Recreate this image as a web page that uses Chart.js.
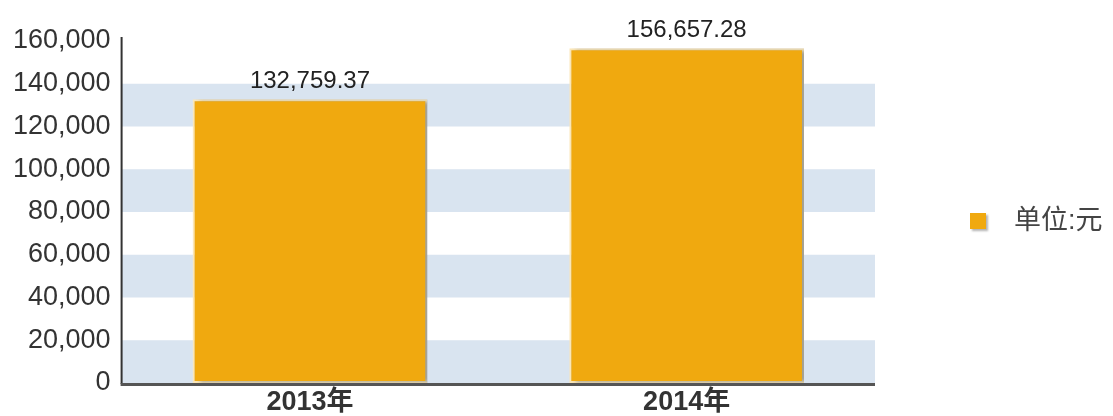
<!DOCTYPE html>
<html>
<head>
<meta charset="utf-8">
<script src="https://cdn.jsdelivr.net/npm/chart.js@4/dist/chart.umd.min.js"></script>
<style>
  body { margin: 0; background: #fff; }
  #wrap { width: 1113px; height: 416px; }
</style>
</head>
<body>
<div id="wrap"><canvas id="barChart"></canvas></div>
<script>
const years = ["2013年", "2014年"];
const amounts = [132759.37, 156657.28];
const seriesName = "单位:元";
const bandRanges = [[0, 20000], [40000, 60000], [80000, 100000], [120000, 140000]];

const barColor = "#f0a90f";
const font = "'Liberation Sans', Arial, 'Noto Sans CJK SC', sans-serif";

// light blue stripes behind the bars
const bands = {
  id: "bands",
  beforeDatasetsDraw(chart) {
    const { ctx, chartArea: a, scales: { y } } = chart;
    ctx.save();
    ctx.fillStyle = "#d9e4f0";
    bandRanges.forEach(r => {
      const top = y.getPixelForValue(r[1]);
      const bot = y.getPixelForValue(r[0]);
      ctx.fillRect(a.left, top, a.right - a.left, bot - top);
    });
    ctx.restore();
    // shadow for bars
    ctx.save();
    ctx.shadowColor = "rgba(90,100,115,0.55)";
    ctx.shadowOffsetX = 5;
    ctx.shadowOffsetY = 1;
    ctx.shadowBlur = 4;
  },
  afterDatasetsDraw(chart) {
    const { ctx } = chart;
    ctx.restore();
    // value labels
    ctx.save();
    ctx.font = "24px " + font;
    ctx.fillStyle = "#222";
    ctx.textAlign = "center";
    ctx.textBaseline = "bottom";
    chart.getDatasetMeta(0).data.forEach((bar, i) => {
      ctx.fillText(amounts[i].toLocaleString("en-US", { minimumFractionDigits: 2 }), bar.x, bar.y - 6);
    });
    ctx.restore();
  },
  afterDraw(chart) {
    const { ctx, chartArea: a } = chart;
    // axis lines
    ctx.save();
    ctx.strokeStyle = "#333";
    ctx.lineWidth = 2;
    ctx.beginPath();
    ctx.moveTo(a.left, a.top - 4);
    ctx.lineTo(a.left, a.bottom + 1);
    ctx.stroke();
    ctx.strokeStyle = "#555";
    ctx.lineWidth = 3;
    ctx.beginPath();
    ctx.moveTo(a.left - 1, a.bottom + 1.5);
    ctx.lineTo(a.right, a.bottom + 1.5);
    ctx.stroke();
    // legend
    const lx = 970, ly = 221;
    ctx.shadowColor = "rgba(0,0,0,0.3)";
    ctx.shadowOffsetX = 2;
    ctx.shadowOffsetY = 2;
    ctx.shadowBlur = 2;
    ctx.fillStyle = barColor;
    ctx.fillRect(lx, ly - 8, 16, 16);
    ctx.shadowColor = "transparent";
    ctx.font = "27px " + font;
    ctx.fillStyle = "#444";
    ctx.textBaseline = "middle";
    ctx.fillText(chart.data.datasets[0].label, lx + 44, ly + 1);
    ctx.restore();
  }
};

new Chart(document.getElementById("barChart"), {
  type: "bar",
  data: {
    labels: years,
    datasets: [{
      label: seriesName,
      data: amounts,
      backgroundColor: barColor,
      borderColor: "#fbe7b8",
      borderWidth: 2,
      borderSkipped: false,
      categoryPercentage: 0.623,
      barPercentage: 1
    }]
  },
  options: {
    responsive: true,
    maintainAspectRatio: false,
    animation: false,
    layout: { padding: { top: 41, right: 238, left: 2, bottom: -6 } },
    plugins: {
      legend: { display: false },
      tooltip: { enabled: false }
    },
    scales: {
      x: {
        grid: { display: false, drawTicks: false },
        border: { display: false },
        ticks: { font: { family: font, size: 27, weight: "bold", lineHeight: 1 }, color: "#333", padding: 6 }
      },
      y: {
        min: 0,
        max: 160000,
        grid: { display: false, drawTicks: false },
        border: { display: false },
        ticks: {
          stepSize: 20000,
          font: { family: font, size: 27 },
          color: "#333",
          padding: 11,
          callback: v => v.toLocaleString("en-US")
        }
      }
    }
  },
  plugins: [bands]
});
</script>
</body>
</html>
